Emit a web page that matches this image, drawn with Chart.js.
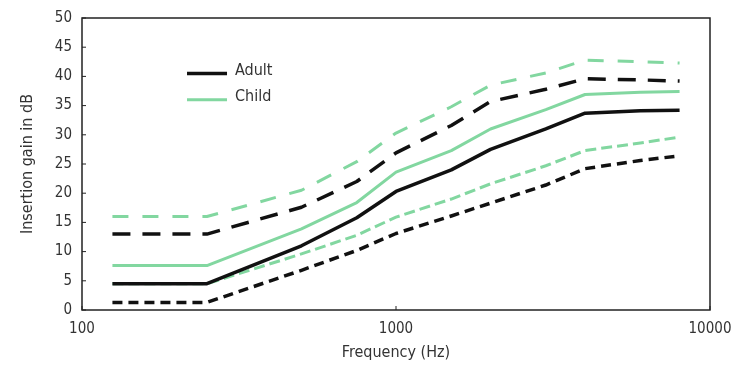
<!DOCTYPE html>
<html>
<head>
<meta charset="utf-8">
<script src="https://cdn.jsdelivr.net/npm/chart.js@4"></script>
<style>
  html, body { margin: 0; padding: 0; background: #fff; }
  #wrap { width: 731px; height: 366px; }
</style>
</head>
<body>
<div id="wrap"><canvas id="gainChart" width="731" height="366"></canvas></div>
<script>
// frequencies (Hz) and insertion gain (dB)
const freqs = [125, 250, 500, 750, 1000, 1500, 2000, 3000, 4000, 6000, 8000];
const adultMean  = [4.5, 4.5, 11.0, 15.8, 20.3, 24.0, 27.5, 31.0, 33.7, 34.1, 34.2];
const adultUpper = [13.0, 13.0, 17.6, 22.0, 26.9, 31.6, 35.7, 37.8, 39.6, 39.4, 39.2];
const adultLower = [1.3, 1.3, 6.8, 10.2, 13.1, 16.1, 18.3, 21.4, 24.2, 25.6, 26.4];
const childMean  = [7.6, 7.6, 13.9, 18.4, 23.6, 27.3, 31.0, 34.3, 36.9, 37.3, 37.4];
const childUpper = [16.0, 16.0, 20.5, 25.4, 30.3, 34.8, 38.5, 40.6, 42.8, 42.5, 42.3];
const childLower = [4.5, 4.5, 9.6, 12.8, 15.9, 19.0, 21.6, 24.7, 27.3, 28.6, 29.6];
const xTicks = [100, 1000, 10000];
const yTicks = [0, 5, 10, 15, 20, 25, 30, 35, 40, 45, 50];
const legendLabels = ['Adult', 'Child'];

const black = '#111111';
const green = '#82d7a0';
const narrow = '"DejaVu Sans Condensed", "Liberation Sans Narrow", Roboto, sans-serif';

function pts(vals) {
  return freqs.map((f, i) => ({ x: f, y: vals[i] }));
}

function line(label, vals, color, width, dash) {
  return {
    label: label,
    data: pts(vals),
    borderColor: color,
    borderWidth: width,
    borderDash: dash,
    borderJoinStyle: 'round',
    pointRadius: 0,
    fill: false,
    tension: 0
  };
}

// frame, inward ticks and in-plot legend
const framePlugin = {
  id: 'frame',
  afterDatasetsDraw(chart) {
    const { ctx, chartArea: a, scales } = chart;
    ctx.save();
    ctx.strokeStyle = '#222';
    ctx.lineWidth = 1.5;
    ctx.strokeRect(a.left, a.top, a.right - a.left, a.bottom - a.top);
    ctx.lineWidth = 1;
    yTicks.forEach(v => {
      const y = scales.y.getPixelForValue(v);
      ctx.beginPath(); ctx.moveTo(a.left, y); ctx.lineTo(a.left + 4, y); ctx.stroke();
    });
    xTicks.forEach(v => {
      const x = scales.x.getPixelForValue(v);
      ctx.beginPath(); ctx.moveTo(x, a.bottom); ctx.lineTo(x, a.bottom - 4); ctx.stroke();
    });
    // legend
    const lx = scales.x.getPixelForValue(216);
    const colors = [black, green];
    const widths = [3.5, 3];
    const ly = [scales.y.getPixelForValue(41.0), scales.y.getPixelForValue(36.5)];
    ctx.font = '16px ' + narrow;
    ctx.textBaseline = 'middle';
    legendLabels.forEach((lab, i) => {
      ctx.strokeStyle = colors[i];
      ctx.lineWidth = widths[i];
      ctx.beginPath(); ctx.moveTo(lx, ly[i] + 3); ctx.lineTo(lx + 40, ly[i] + 3); ctx.stroke();
      ctx.fillStyle = '#333';
      ctx.fillText(lab, lx + 48, ly[i]);
    });
    ctx.restore();
  }
};

new Chart(document.getElementById('gainChart').getContext('2d'), {
  type: 'line',
  data: {
    datasets: [
      line('Adult upper', adultUpper, black, 3.5, [18, 12]),
      line('Child upper', childUpper, green, 3, [16, 14]),
      line('Child mean', childMean, green, 3, []),
      line('Adult mean', adultMean, black, 3.5, []),
      line('Child lower', childLower, green, 3, [11, 5]),
      line('Adult lower', adultLower, black, 3.5, [10, 6])
    ]
  },
  options: {
    responsive: false,
    animation: false,
    layout: { padding: { top: 18, right: 21, left: 14, bottom: 0 } },
    plugins: { legend: { display: false }, tooltip: { enabled: false } },
    scales: {
      x: {
        type: 'logarithmic',
        min: 100,
        max: 10000,
        afterBuildTicks: s => { s.ticks = xTicks.map(v => ({ value: v })); },
        afterFit: s => { s.height = 56; s.paddingLeft = 0; s.paddingRight = 0; },
        grid: { display: false },
        border: { display: false },
        ticks: {
          color: '#333', padding: 2, maxRotation: 0, autoSkip: false,
          font: { family: narrow, size: 15 },
          callback: v => String(v)
        },
        title: {
          display: true, text: 'Frequency (Hz)', color: '#333',
          font: { family: narrow, size: 16 }, padding: { top: 4 }
        }
      },
      y: {
        min: 0,
        max: 50,
        afterBuildTicks: s => { s.ticks = yTicks.map(v => ({ value: v })); },
        afterFit: s => { s.width = 68; },
        grid: { display: false },
        border: { display: false },
        ticks: {
          color: '#333', padding: 2,
          font: { family: narrow, size: 15 }
        },
        title: {
          display: true, text: 'Insertion gain in dB', color: '#333',
          font: { family: narrow, size: 16 }, padding: { bottom: 4 }
        }
      }
    }
  },
  plugins: [framePlugin]
});
</script>
</body>
</html>
